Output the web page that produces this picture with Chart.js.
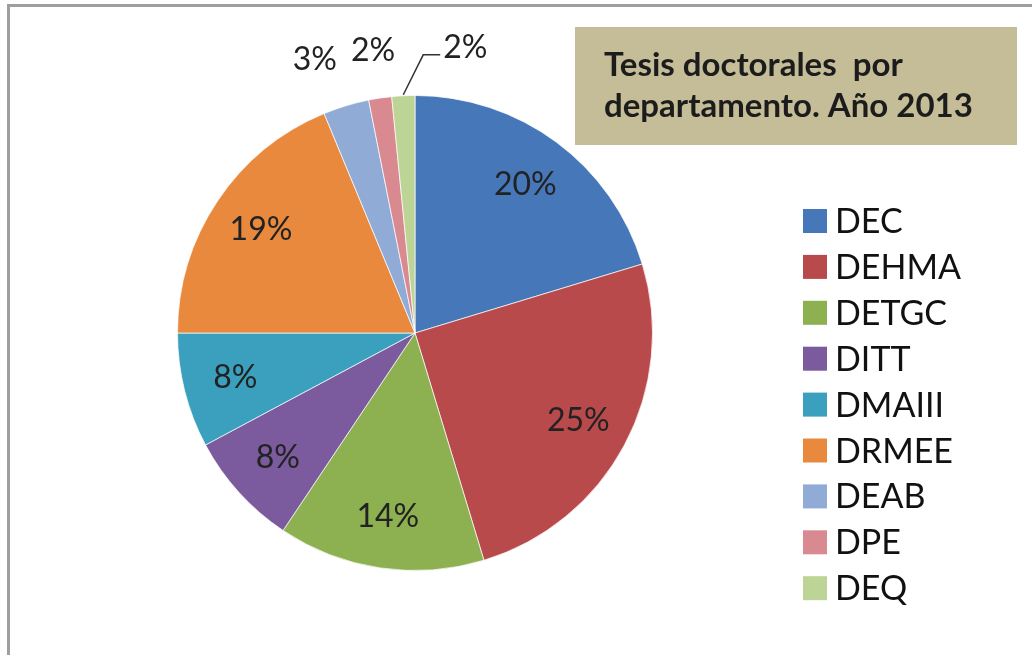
<!DOCTYPE html>
<html>
<head>
<meta charset="utf-8">
<script src="https://cdn.jsdelivr.net/npm/chart.js@4.4.1/dist/chart.umd.min.js"></script>
<style>
  html, body { margin: 0; padding: 0; background: #fff; overflow: hidden; }
  #wrap { width: 1032px; height: 655px; position: relative; }
</style>
</head>
<body>
<div id="wrap"><canvas id="grafico" width="1032" height="655"></canvas></div>
<script>
'use strict';

// ── Datos ──────────────────────────────────────────────
const departamentos = ['DEC', 'DEHMA', 'DETGC', 'DITT', 'DMAIII', 'DRMEE', 'DEAB', 'DPE', 'DEQ'];
const tesis = [13, 16, 9, 5, 5, 12, 2, 1, 1];
const colores = ['#4677b8', '#b94a4c', '#8db051', '#7b5b9e', '#3ba0bd', '#e8893e', '#90acd6', '#d98a90', '#bcd496'];
const tituloLineas = ['Tesis doctorales  por', 'departamento. Año 2013'];

const FONT = "Lato, 'Open Sans', sans-serif";

// marco gris y recuadro del título
const fondoPlugin = {
  id: 'fondo',
  beforeDraw(chart) {
    const ctx = chart.ctx;
    ctx.save();
    ctx.fillStyle = '#fff';
    ctx.fillRect(0, 0, chart.width, chart.height);
    ctx.strokeStyle = '#9e9e9e';
    ctx.lineWidth = 3;
    ctx.beginPath();
    ctx.moveTo(8.5, chart.height);
    ctx.lineTo(8.5, 5.5);
    ctx.lineTo(chart.width, 5.5);
    ctx.stroke();
    ctx.restore();
  },
  afterDraw(chart) {
    const ctx = chart.ctx;
    ctx.save();
    ctx.fillStyle = '#c4bd97';
    ctx.fillRect(575, 27, 442, 118);
    ctx.fillStyle = '#1c1c1c';
    ctx.font = 'bold 33px ' + FONT;
    ctx.textBaseline = 'alphabetic';
    ctx.fillText(tituloLineas[0], 604, 76);
    ctx.fillText(tituloLineas[1], 604, 117);
    ctx.restore();
  }
};

// leyenda a la derecha
const leyendaPlugin = {
  id: 'leyenda',
  afterDraw(chart) {
    const ctx = chart.ctx;
    const ds = chart.data.datasets[0];
    ctx.save();
    ctx.font = '34px ' + FONT;
    ctx.textBaseline = 'alphabetic';
    chart.data.labels.forEach((lab, i) => {
      const cy = 221 + i * 45.9;
      ctx.fillStyle = ds.backgroundColor[i];
      ctx.fillRect(803, cy - 12, 24, 24);
      ctx.fillStyle = '#111';
      ctx.fillText(lab, 835, cy + 12);
    });
    ctx.restore();
  }
};

// etiquetas de porcentaje
const etiquetasPlugin = {
  id: 'etiquetas',
  afterDatasetsDraw(chart) {
    const ctx = chart.ctx;
    const meta = chart.getDatasetMeta(0);
    const data = chart.data.datasets[0].data;
    const total = data.reduce((a, b) => a + b, 0);
    const fuera = [];
    ctx.save();
    ctx.font = '32px ' + FONT;
    ctx.fillStyle = '#222';
    ctx.textBaseline = 'middle';
    ctx.textAlign = 'center';
    meta.data.forEach((arc, i) => {
      const p = arc.getProps(['x', 'y', 'startAngle', 'endAngle', 'outerRadius'], true);
      const mid = (p.startAngle + p.endAngle) / 2;
      const pct = Math.round(data[i] / total * 100);
      const txt = pct + '%';
      const w = ctx.measureText(txt).width;
      if (pct >= 5) {
        const r = p.outerRadius * 0.78;
        ctx.fillText(txt, p.x + Math.cos(mid) * r, p.y + Math.sin(mid) * r);
        return;
      }
      const r = p.outerRadius + 48;
      const lab = { txt, w, mid, p, x: p.x + Math.cos(mid) * r, y: p.y + Math.sin(mid) * r, guia: false };
      const prev = fuera[fuera.length - 1];
      if (prev) {
        const solape = (prev.x + prev.w / 2 + 14) - (lab.x - w / 2);
        if (solape > 0 && solape < w * 0.5) {
          prev.x -= solape;          // poco solape: se aparta la anterior
        } else if (solape > 0) {
          lab.x = prev.x + prev.w / 2 + 48 + w / 2;   // mucho: a la derecha con guía
          lab.guia = true;
        }
      }
      fuera.push(lab);
    });
    fuera.forEach(lab => {
      if (lab.guia) {
        const left = lab.x - lab.w / 2;
        const ex = lab.p.x + Math.cos(lab.mid) * (lab.p.outerRadius + 1);
        const ey = lab.p.y + Math.sin(lab.mid) * (lab.p.outerRadius + 1);
        ctx.save();
        ctx.strokeStyle = '#333';
        ctx.lineWidth = 1.5;
        ctx.beginPath();
        ctx.moveTo(ex, ey);
        ctx.lineTo(left - 20, lab.y + 7);
        ctx.lineTo(left - 3, lab.y + 7);
        ctx.stroke();
        ctx.restore();
      }
      ctx.fillText(lab.txt, lab.x, lab.y);
    });
    ctx.restore();
  }
};

new Chart(document.getElementById('grafico').getContext('2d'), {
  type: 'pie',
  data: {
    labels: departamentos,
    datasets: [{
      data: tesis,
      backgroundColor: colores,
      borderColor: 'rgba(255,255,255,0.7)',
      borderWidth: 1,
      hoverOffset: 0,
      offset: 0
    }]
  },
  options: {
    responsive: false,
    animation: false,
    layout: { padding: { left: 177, right: 379, top: 95, bottom: 84 } },
    plugins: {
      legend: { display: false },
      tooltip: { enabled: false },
      title: { display: false }
    }
  },
  plugins: [fondoPlugin, etiquetasPlugin, leyendaPlugin]
});
</script>
</body>
</html>
